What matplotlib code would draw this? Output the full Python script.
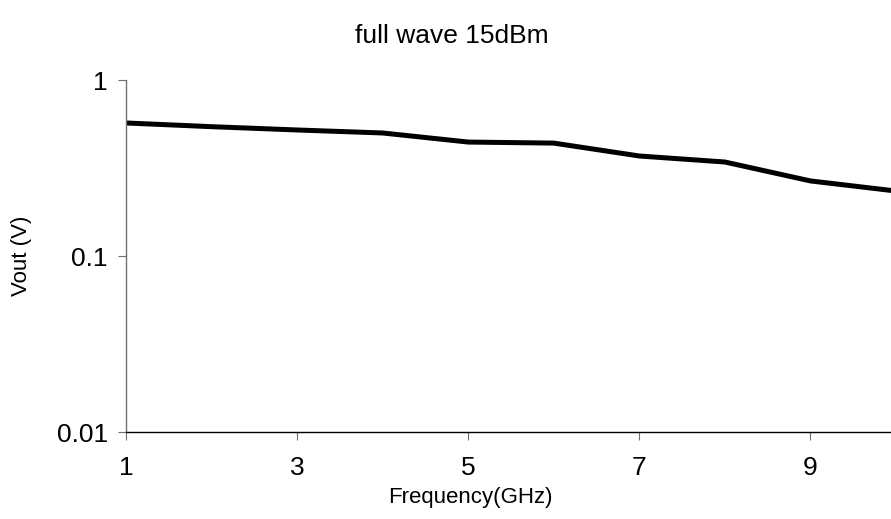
import matplotlib
matplotlib.use("Agg")
import matplotlib.pyplot as plt
from matplotlib.ticker import FixedLocator, FixedFormatter, NullLocator

plt.rcParams['font.family'] = ['Liberation Sans', 'DejaVu Sans']

# Output voltage vs. frequency, full-wave rectifier at 15 dBm input
freq_ghz = [1, 2, 3, 4, 5, 6, 7, 8, 9, 10]
vout_v = [0.570, 0.543, 0.520, 0.500, 0.444, 0.438, 0.370, 0.342, 0.267, 0.234]

x_ticks = [1, 3, 5, 7, 9]
x_tick_labels = ["1", "3", "5", "7", "9"]
y_ticks = [0.01, 0.1, 1]
y_tick_labels = ["0.01", "0.1", "1"]

W, H = 891, 519
fig = plt.figure(figsize=(W / 100, H / 100), dpi=100)
ax = fig.add_axes([126 / W, 1 - 432 / H, (896 - 126) / W, (432 - 80) / H])

ax.plot(freq_ghz, vout_v, color="black", linewidth=3.6, solid_joinstyle="round")

ax.set_yscale("log")
ax.set_xlim(1, 10)
ax.set_ylim(0.01, 1)

ax.xaxis.set_major_locator(FixedLocator(x_ticks))
ax.xaxis.set_major_formatter(FixedFormatter(x_tick_labels))
ax.xaxis.set_minor_locator(NullLocator())
ax.yaxis.set_major_locator(FixedLocator(y_ticks))
ax.yaxis.set_major_formatter(FixedFormatter(y_tick_labels))
ax.yaxis.set_minor_locator(NullLocator())

for side in ("top", "right"):
    ax.spines[side].set_visible(False)
ax.spines["left"].set_color("#707070")
ax.spines["left"].set_linewidth(1.0)
ax.spines["bottom"].set_color("black")
ax.spines["bottom"].set_linewidth(1.0)

ax.tick_params(axis="x", direction="out", length=6, width=0.8, color="#707070",
               labelsize=19, pad=11)
ax.tick_params(axis="y", direction="out", length=6, width=0.8, color="#707070",
               labelsize=19, pad=7)

# Axis titles and chart title placed in figure pixels
fig.text(470 / W, 1 - 497 / H, "Frequency(GHz)", fontsize=16,
         ha="center", va="center")
fig.text(21 / W, 1 - 256 / H, "Vout (V)", fontsize=16, rotation=90,
         ha="center", va="center")
fig.text(452 / W, 1 - 36 / H, "full wave 15dBm", fontsize=19,
         ha="center", va="center")

fig.savefig("out.png", dpi=100)
